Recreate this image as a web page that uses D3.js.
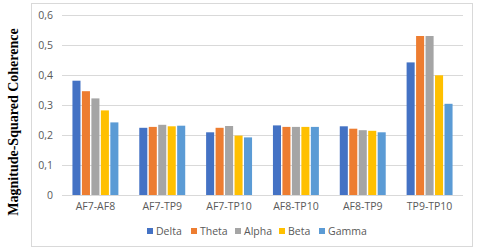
<!DOCTYPE html>
<html>
<head>
<meta charset="utf-8">
<script src="https://cdn.jsdelivr.net/npm/d3@7"></script>
<style>
  body { margin: 0; background: #fff; }
  text { font-family: "Open Sans", "Liberation Sans", sans-serif; }
</style>
</head>
<body>
<div id="chart"></div>
<script>
// channel pairs and bands
var pairs = ["AF7-AF8", "AF7-TP9", "AF7-TP10", "AF8-TP10", "AF8-TP9", "TP9-TP10"];
var bands = ["Delta", "Theta", "Alpha", "Beta", "Gamma"];
var colors = ["#4472C4", "#ED7D31", "#A5A5A5", "#FFC000", "#5B9BD5"];

// values per band, one per pair
var delta = [0.381, 0.224, 0.209, 0.232, 0.229, 0.442];
var theta = [0.346, 0.227, 0.224, 0.227, 0.221, 0.530];
var alpha = [0.322, 0.234, 0.230, 0.227, 0.216, 0.530];
var beta  = [0.282, 0.229, 0.198, 0.227, 0.214, 0.399];
var gamma = [0.242, 0.231, 0.192, 0.227, 0.209, 0.304];
var yTicks = [0, 0.1, 0.2, 0.3, 0.4, 0.5, 0.6];

var series = [delta, theta, alpha, beta, gamma];

var W = 480, H = 251;
var margin = { top: 15, right: 17, bottom: 56, left: 62 },
    width = W - margin.left - margin.right,
    height = H - margin.top - margin.bottom;

var root = d3.select("#chart")
    .append("svg")
    .attr("width", W)
    .attr("height", H);

// outer frame
root.append("rect")
    .attr("x", 31.5).attr("y", 3.5)
    .attr("width", 441).attr("height", 243)
    .attr("fill", "none")
    .attr("stroke", "#D9D9D9");

var svg = root.append("g")
    .attr("transform", "translate(" + margin.left + "," + margin.top + ")");

var x = d3.scaleBand()
    .domain(pairs)
    .range([0, width])
    .paddingInner(0.27)
    .paddingOuter(0.135);

var xs = d3.scaleBand()
    .domain(bands)
    .range([0, x.bandwidth()])
    .padding(0.15);

var y = d3.scaleLinear()
    .domain([0, 0.6])
    .range([height, 0]);

// gridlines
svg.selectAll("grid")
    .data(yTicks)
    .enter()
    .append("line")
    .attr("x1", 0)
    .attr("x2", width)
    .attr("y1", function (d) { return Math.round(y(d)) + 0.5; })
    .attr("y2", function (d) { return Math.round(y(d)) + 0.5; })
    .attr("stroke", "#D9D9D9");

// y axis labels
var yAxis = svg.append("g")
    .call(d3.axisLeft(y).tickValues(yTicks).tickSize(0).tickPadding(9)
        .tickFormat(function (d) { return d === 0 ? "0" : d3.format(".1f")(d).replace(".", ","); }));
yAxis.select(".domain").remove();
yAxis.selectAll("text").attr("fill", "#595959").style("font-size", "10.5px");

// x axis labels
var xAxis = svg.append("g")
    .attr("transform", "translate(0," + height + ")")
    .call(d3.axisBottom(x).tickSize(0).tickPadding(8));
xAxis.select(".domain").remove();
xAxis.selectAll("text").attr("fill", "#595959").style("font-size", "10.5px");

// bars
var groups = svg.selectAll("mygroup")
    .data(pairs)
    .enter()
    .append("g")
    .attr("transform", function (d) { return "translate(" + x(d) + ",0)"; });

groups.selectAll("rect")
    .data(function (d, i) {
        return bands.map(function (b, j) { return { band: b, value: series[j][i], color: colors[j] }; });
    })
    .enter()
    .append("rect")
    .attr("x", function (d) { return xs(d.band); })
    .attr("y", function (d) { return y(d.value); })
    .attr("width", xs.bandwidth())
    .attr("height", function (d) { return height - y(d.value); })
    .attr("fill", function (d) { return d.color; });

// legend
var legendX = [147, 191, 235, 279, 319];
var legend = root.selectAll("legend")
    .data(bands)
    .enter()
    .append("g")
    .attr("transform", function (d, i) { return "translate(" + legendX[i] + ",231)"; });
legend.append("rect")
    .attr("x", 0).attr("y", -3)
    .attr("width", 6).attr("height", 6)
    .attr("fill", function (d, i) { return colors[i]; });
legend.append("text")
    .attr("x", 9).attr("y", 0)
    .attr("dy", "0.35em")
    .attr("fill", "#595959")
    .style("font-size", "10.5px")
    .text(function (d) { return d; });

// y title
root.append("text")
    .attr("transform", "translate(18," + 122 + ") rotate(-90)")
    .attr("text-anchor", "middle")
    .style("font-family", "'Liberation Serif', 'DejaVu Serif', serif")
    .style("font-weight", "bold")
    .style("font-size", "14px")
    .attr("fill", "#000")
    .text("Magnitude-Squared Coherence");
</script>
</body>
</html>
